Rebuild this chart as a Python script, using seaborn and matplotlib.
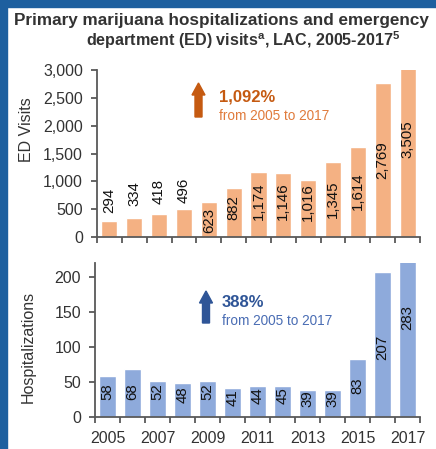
import matplotlib
matplotlib.use("Agg")
import matplotlib.pyplot as plt
from matplotlib.patches import Rectangle, FancyArrow
from matplotlib.transforms import IdentityTransform
from matplotlib.ticker import FuncFormatter, FixedLocator
import numpy as np
import pandas as pd
import seaborn as sns

# Data
years = [2005, 2006, 2007, 2008, 2009, 2010, 2011, 2012, 2013, 2014, 2015, 2016, 2017]
ed_visits = [294, 334, 418, 496, 623, 882, 1174, 1146, 1016, 1345, 1614, 2769, 3505]
hospitalizations = [58, 68, 52, 48, 52, 41, 44, 45, 39, 39, 83, 207, 283]
year_labels = ["2005", "", "2007", "", "2009", "", "2011", "", "2013", "", "2015", "", "2017"]

# Where each rotated value label sits (centre, in data units)
ed_label_y = [655, 781, 817, 844, 305, 530, 637, 646, 619, 682, 826, 1382, 1760]
hosp_label_y = [36, 36, 36, 32, 36, 27, 30, 31, 26, 26, 45, 99, 142]

ORANGE_BAR = "#f4b183"
BLUE_BAR = "#8eaadb"
ORANGE_DARK = "#c55a11"
ORANGE_TXT = "#e07b3c"
BLUE_DARK = "#2f5597"
BLUE_TXT = "#4a6db4"
FRAME = "#1d5f9f"
AXIS = "#595959"
TXT = "#333333"

sns.set_theme(style="white")
plt.rcParams["font.family"] = ["Liberation Sans", "DejaVu Sans"]
plt.rcParams["mathtext.fontset"] = "custom"
plt.rcParams["mathtext.rm"] = "Liberation Sans:bold"
plt.rcParams["mathtext.bf"] = "Liberation Sans:bold"

W, H = 436, 449
fig = plt.figure(figsize=(W / 100, H / 100), dpi=100)
fig.patch.set_facecolor("white")

df = pd.DataFrame({"year": [str(y) for y in years], "ed": ed_visits, "hosp": hospitalizations})

ax1 = fig.add_axes([97 / W, (H - 237) / H, 323 / W, 167 / H])
ax2 = fig.add_axes([95 / W, (H - 417) / H, 325 / W, 154 / H])


def style_axis(ax):
    for s in ["top", "right"]:
        ax.spines[s].set_visible(False)
    for s in ["left", "bottom"]:
        ax.spines[s].set_color(AXIS)
        ax.spines[s].set_linewidth(1.3)
    ax.set_xlim(-0.5, len(years) - 0.5)
    ax.xaxis.set_minor_locator(FixedLocator(np.arange(-0.5, len(years), 1.0)))
    ax.tick_params(axis="x", which="minor", direction="out", length=4, width=1.3,
                   color=AXIS, bottom=True)
    ax.tick_params(axis="x", which="major", length=0, pad=10, labelsize=11.5,
                   labelcolor=TXT)
    ax.tick_params(axis="y", which="major", direction="out", length=4, width=1.3,
                   color=AXIS, left=True, pad=6, labelsize=11.5, labelcolor=TXT)
    ax.set_xlabel("")
    ax.grid(False)


# ED visits panel
sns.barplot(data=df, x="year", y="ed", color=ORANGE_BAR, saturation=1, width=0.65,
            ax=ax1)
style_axis(ax1)
ax1.set_ylim(0, 3000)
ax1.set_yticks(range(0, 3001, 500))
ax1.yaxis.set_major_formatter(FuncFormatter(lambda v, p: f"{int(v):,}"))
ax1.set_xticks(range(len(years)))
ax1.set_xticklabels([""] * len(years))
ax1.set_ylabel("ED Visits", fontsize=11.5, color=TXT)
ax1.yaxis.set_label_coords(-0.195, 0.641)
for i, (v, yl) in enumerate(zip(ed_visits, ed_label_y)):
    ax1.text(i, yl, f"{v:,}", rotation=90, ha="center", va="center",
             fontsize=10.8, color="#111111")

# Hospitalizations panel
sns.barplot(data=df, x="year", y="hosp", color=BLUE_BAR, saturation=1, width=0.67,
            ax=ax2)
style_axis(ax2)
ax2.set_ylim(0, 220)
ax2.set_yticks(range(0, 201, 50))
ax2.set_xticks(range(len(years)))
ax2.set_xticklabels(year_labels)
ax2.set_ylabel("Hospitalizations", fontsize=11.5, color=TXT)
ax2.yaxis.set_label_coords(-0.1815, 0.4545)
for i, (v, yl) in enumerate(zip(hospitalizations, hosp_label_y)):
    ax2.text(i, yl, f"{v}", rotation=90, ha="center", va="center",
             fontsize=10.8, color="#111111")

# Frame along the left and top edges
fig.add_artist(Rectangle((0, 0), 7 / W, 1, transform=fig.transFigure,
                         color=FRAME, zorder=10))
fig.add_artist(Rectangle((0, 1 - 7 / H), 1, 7 / H, transform=fig.transFigure,
                         color=FRAME, zorder=10))

# Title
fig.text(221 / W, 1 - 20 / H, "Primary marijuana hospitalizations and emergency",
         ha="center", va="center", fontsize=12.3, fontweight="bold", color=TXT)
fig.text(243 / W, 1 - 40 / H,
         r"department (ED) visits$^{\mathrm{a}}$, LAC, 2005-2017$^{5}$",
         ha="center", va="center", fontsize=11.6, fontweight="bold", color=TXT)


def up_arrow(x, y_bottom, y_top, color):
    arr = FancyArrow(x, H - y_bottom, 0, y_bottom - y_top, width=7, head_width=13,
                     head_length=12, length_includes_head=True,
                     transform=IdentityTransform(), color=color, zorder=5)
    fig.add_artist(arr)


# Growth callouts
up_arrow(198.5, 117, 83, ORANGE_DARK)
fig.text(219 / W, 1 - 102 / H, "1,092%", ha="left", va="baseline", fontsize=12,
         fontweight="bold", color=ORANGE_DARK)
fig.text(219 / W, 1 - 120 / H, "from 2005 to 2017", ha="left", va="baseline",
         fontsize=9.8, color=ORANGE_TXT)

up_arrow(206, 323, 291, BLUE_DARK)
fig.text(222 / W, 1 - 307 / H, "388%", ha="left", va="baseline", fontsize=12,
         fontweight="bold", color=BLUE_DARK)
fig.text(222 / W, 1 - 325 / H, "from 2005 to 2017", ha="left", va="baseline",
         fontsize=9.8, color=BLUE_TXT)

fig.savefig("out.png", dpi=100, facecolor="white")
